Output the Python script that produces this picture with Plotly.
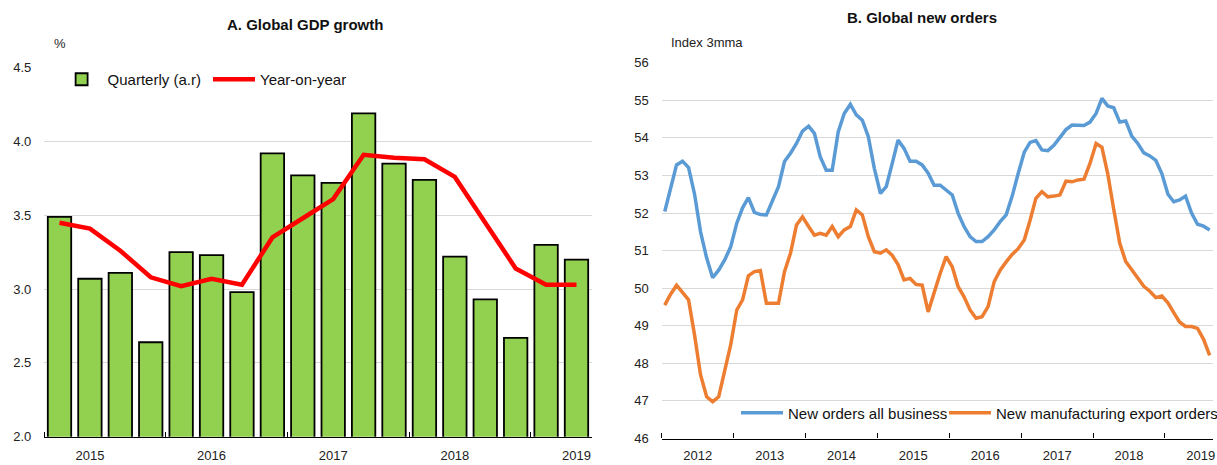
import plotly.graph_objects as go
import pandas as pd

# ---------------- Panel A data ----------------
quarters = ["2015Q1", "2015Q2", "2015Q3", "2015Q4", "2016Q1", "2016Q2", "2016Q3", "2016Q4",
            "2017Q1", "2017Q2", "2017Q3", "2017Q4", "2018Q1", "2018Q2", "2018Q3", "2018Q4",
            "2019Q1", "2019Q2"]
quarterly_ar = [3.49, 3.07, 3.11, 2.64, 3.25, 3.23, 2.98, 3.92, 3.77, 3.72, 4.19, 3.85,
                3.74, 3.22, 2.93, 2.67, 3.30, 3.20]
year_on_year = [3.45, 3.41, 3.26, 3.08, 3.02, 3.07, 3.03, 3.35, 3.48, 3.61, 3.91, 3.89,
                3.88, 3.76, 3.45, 3.14, 3.03, 3.03]
years_a = ["2015", "2016", "2017", "2018", "2019"]

# ---------------- Panel B data ----------------
months_start = "2012-01-01"
all_business = [52.04, 52.66, 53.28, 53.38, 53.21, 52.50, 51.50, 50.80, 50.28, 50.48, 50.75, 51.10,
                51.73, 52.14, 52.41, 52.02, 51.96, 51.95, 52.30, 52.70, 53.37, 53.59, 53.85, 54.18,
                54.31, 54.12, 53.50, 53.14, 53.14, 54.16, 54.65, 54.89, 54.61, 54.47, 54.03, 53.19,
                52.52, 52.70, 53.30, 53.94, 53.72, 53.38, 53.38, 53.28, 53.06, 52.74, 52.74, 52.61,
                52.48, 51.99, 51.64, 51.37, 51.24, 51.24, 51.37, 51.55, 51.77, 51.95, 52.45, 53.05,
                53.62, 53.88, 53.93, 53.68, 53.66, 53.80, 54.00, 54.22, 54.34, 54.34, 54.33, 54.42,
                54.65, 55.05, 54.85, 54.80, 54.42, 54.45, 54.05, 53.85, 53.60, 53.52, 53.40, 53.05,
                52.50, 52.30, 52.35, 52.45, 52.00, 51.70, 51.65, 51.55]
export_orders = [49.55, 49.84, 50.08, 49.89, 49.69, 48.75, 47.69, 47.11, 46.98, 47.11, 47.78, 48.49,
                 49.42, 49.69, 50.33, 50.44, 50.47, 49.60, 49.60, 49.60, 50.44, 50.93, 51.68, 51.90,
                 51.64, 51.41, 51.46, 51.41, 51.64, 51.37, 51.55, 51.64, 52.08, 51.95, 51.37, 50.97,
                 50.93, 51.02, 50.88, 50.63, 50.22, 50.26, 50.10, 50.08, 49.37, 49.89, 50.39, 50.84,
                 50.57, 50.04, 49.77, 49.42, 49.20, 49.24, 49.51, 50.17, 50.48, 50.70, 50.90, 51.05,
                 51.28, 51.81, 52.39, 52.57, 52.43, 52.45, 52.48, 52.85, 52.83, 52.88, 52.90, 53.32,
                 53.85, 53.75, 53.05, 52.10, 51.20, 50.71, 50.49, 50.27, 50.05, 49.92, 49.75, 49.79,
                 49.61, 49.35, 49.10, 48.98, 48.98, 48.93, 48.64, 48.21]
months = pd.date_range(months_start, periods=len(all_business), freq="MS")

# ---------------- styling ----------------
W, H = 1217, 465
FONT = "Liberation Sans, Arial, sans-serif"
GREEN = "#92D050"
RED = "#FF0000"
BLUE = "#5B9BD5"
ORANGE = "#ED7D31"
GRID = "#D9D9D9"

def px_x(p):
    return p / W

def px_y(p):
    return 1 - p / H

x_idx = list(range(len(quarters)))

fig = go.Figure()
fig.add_trace(go.Bar(
    x=x_idx, y=quarterly_ar, name="Quarterly (a.r)", width=0.77,
    marker=dict(color=GREEN, line=dict(color="black", width=1.8)),
    xaxis="x", yaxis="y", legend="legend", hoverinfo="skip"))
fig.add_trace(go.Scatter(
    x=x_idx, y=year_on_year, name="Year-on-year", mode="lines",
    line=dict(color=RED, width=4.5), xaxis="x", yaxis="y", legend="legend2"))
fig.add_trace(go.Scatter(
    x=months, y=all_business, name="New orders all business", mode="lines",
    line=dict(color=BLUE, width=3.5), xperiod="M1", xperiodalignment="middle",
    xaxis="x2", yaxis="y2", legend="legend3"))
fig.add_trace(go.Scatter(
    x=months, y=export_orders, name="New manufacturing export orders", mode="lines",
    line=dict(color=ORANGE, width=3.5), xperiod="M1", xperiodalignment="middle",
    xaxis="x2", yaxis="y2", legend="legend4"))

tick_font = dict(family=FONT, size=13, color="#222222")
leg_font = dict(family=FONT, size=15, color="#111111")

year_label_pos = [x_idx[4 * k + 1] for k in range(len(years_a))]
year_bounds = [x_idx[4 * k] - 0.5 for k in range(len(years_a))]

ITEM_W = 42
TEXT_GAP = ITEM_W + 10
legend_common = dict(orientation="h", bgcolor="rgba(0,0,0,0)", borderwidth=0,
                     font=leg_font, xanchor="left", yanchor="middle", itemwidth=ITEM_W)

fig.update_layout(
    width=W, height=H,
    margin=dict(l=0, r=0, t=0, b=0, autoexpand=False),
    paper_bgcolor="white", plot_bgcolor="white",
    font=dict(family=FONT, color="#222222"),
    xaxis=dict(domain=[px_x(44.3), px_x(591.7)], range=[-0.5, len(quarters) - 0.5],
               tickmode="array", tickvals=year_label_pos, ticktext=years_a,
               ticks="", showgrid=False, zeroline=False,
               showline=True, linecolor="black", linewidth=1.3,
               tickfont=tick_font, ticklabelstandoff=7,
               minor=dict(tickmode="array", tickvals=year_bounds, ticks="inside",
                          ticklen=5, tickcolor="black", tickwidth=1.3, showgrid=False),
               anchor="y", fixedrange=True),
    yaxis=dict(domain=[px_y(436.7), px_y(67.7)], range=[2.0, 4.5], dtick=0.5, tick0=2.0,
               tickformat=".1f", ticks="", showgrid=True, gridcolor=GRID, gridwidth=1.3,
               zeroline=False, showline=False, tickfont=tick_font, ticklabelstandoff=12,
               anchor="x", fixedrange=True),
    xaxis2=dict(domain=[px_x(661.7), px_x(1212.7)], type="date",
                range=[months_start, "2019-09-01"],
                tick0=months_start, dtick="M12", tickformat="%Y", ticklabelmode="period",
                ticks="inside", ticklen=5, tickcolor="black", tickwidth=1.3,
                showgrid=False, zeroline=False, showline=True, linecolor="black", linewidth=1.3,
                tickfont=tick_font, ticklabelstandoff=5, anchor="y2", fixedrange=True),
    yaxis2=dict(domain=[px_y(438.5), px_y(62.7)], range=[46, 56], dtick=1, tick0=46,
                ticks="", showgrid=True, gridcolor=GRID, gridwidth=1.3,
                zeroline=False, showline=False, tickfont=tick_font, ticklabelstandoff=12,
                anchor="x2", fixedrange=True),
    legend=dict(x=px_x(107.6 - TEXT_GAP), y=px_y(79.5), **legend_common),
    legend2=dict(x=px_x(260 - TEXT_GAP), y=px_y(79.5), **legend_common),
    legend3=dict(x=px_x(788 - TEXT_GAP), y=px_y(413), **legend_common),
    legend4=dict(x=px_x(996 - TEXT_GAP), y=px_y(413), **legend_common),
    showlegend=True,
    annotations=[
        dict(text="<b>A. Global GDP growth</b>", x=px_x(305), y=px_y(25), xref="paper", yref="paper",
             xanchor="center", yanchor="middle", showarrow=False,
             font=dict(family=FONT, size=15, color="#111111")),
        dict(text="<b>B. Global new orders</b>", x=px_x(922), y=px_y(18), xref="paper", yref="paper",
             xanchor="center", yanchor="middle", showarrow=False,
             font=dict(family=FONT, size=15, color="#111111")),
        dict(text="%", x=px_x(52), y=px_y(44), xref="paper", yref="paper",
             xanchor="left", yanchor="middle", showarrow=False,
             font=dict(family=FONT, size=13, color="#222222")),
        dict(text="Index 3mma", x=px_x(669), y=px_y(42.7), xref="paper", yref="paper",
             xanchor="left", yanchor="middle", showarrow=False,
             font=dict(family=FONT, size=13, color="#222222")),
    ],
)

fig.write_html("out.html", config={"displayModeBar": False},
               post_script="document.body.style.margin='0px';")
